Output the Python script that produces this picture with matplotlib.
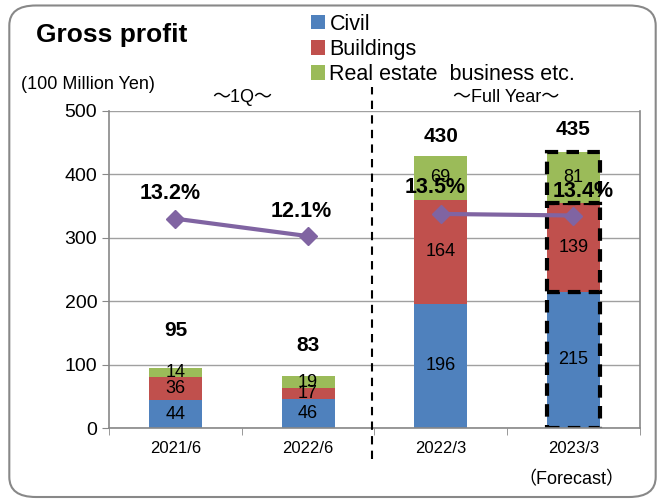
import matplotlib
matplotlib.use('Agg')
import matplotlib.pyplot as plt
from matplotlib.patches import FancyBboxPatch
import numpy as np

plt.rcParams['font.family'] = ['Liberation Sans', 'Noto Sans CJK JP', 'DejaVu Sans']

categories = ['2021/6', '2022/6', '2022/3', '2023/3']
civil = [44, 46, 196, 215]
buildings = [36, 17, 164, 139]
real_estate = [14, 19, 69, 81]
totals = [95, 83, 430, 435]
margin_pct = [13.2, 12.1, 13.5, 13.4]

series = [('Civil', civil, '#4F81BD'),
          ('Buildings', buildings, '#C0504D'),
          ('Real estate  business etc.', real_estate, '#9BBB59')]

fig = plt.figure(figsize=(6.65, 4.99), dpi=100)
ax = fig.add_axes([0.164, 0.142, 0.798, 0.636])

x = np.arange(len(categories))
width = 0.40
bottom = np.zeros(len(categories))
for name, vals, color in series:
    bars = ax.bar(x, vals, width, bottom=bottom, color=color, label=name, zorder=2)
    for i, b in enumerate(bars):
        if i == 3:  # forecast bar gets dashed outline
            b.set_edgecolor('black')
            b.set_linestyle((0, (3, 2)))
            b.set_linewidth(3)
        ax.text(x[i], bottom[i] + vals[i] / 2, str(vals[i]), ha='center', va='center',
                fontsize=13, zorder=5)
    bottom += np.array(vals)

# totals above bars
total_offsets = [27, 22, 14, 16]
for i, t in enumerate(totals):
    ax.annotate(str(t), (x[i], bottom[i]), xytext=(0, total_offsets[i]),
                textcoords='offset points', ha='center', va='center',
                fontsize=15, fontweight='bold')

ax.set_xlim(-0.5, 3.5)
ax.set_ylim(0, 500)
ax.set_yticks(range(0, 501, 100))
ax.set_xticks(x)
ax.set_xticklabels(categories, fontsize=12)
ax.set_xticks(np.arange(-0.5, 4.0, 1), minor=True)
ax.tick_params(axis='x', which='major', length=0, pad=9)
ax.tick_params(axis='x', which='minor', length=5, color='#888888')
ax.tick_params(axis='y', labelsize=14, length=5, color='#888888')
ax.grid(axis='y', color='#A0A0A0', linewidth=1, zorder=0)
ax.set_axisbelow(True)
for s in ['left', 'bottom', 'right']:
    ax.spines[s].set_color('#888888')
    ax.spines[s].set_linewidth(1.2)
ax.spines['top'].set_visible(False)

# gross margin line on hidden secondary axis
ax2 = ax.twinx()
ax2.set_ylim(0, 20)
ax2.plot(x[:2], margin_pct[:2], color='#8064A2', lw=3, marker='D', ms=9, zorder=4)
ax2.plot(x[2:], margin_pct[2:], color='#8064A2', lw=3, marker='D', ms=9, zorder=4)
pct_offsets = [(-4, 18), (-5, 18), (-4, 19), (7, 17)]
for i, p in enumerate(margin_pct):
    ax2.annotate('%.1f%%' % p, (x[i], p), xytext=pct_offsets[i],
                 textcoords='offset points', ha='center', va='center',
                 fontsize=15.5, fontweight='bold', zorder=6)
ax2.set_yticks([])
for s in ax2.spines.values():
    s.set_visible(False)

# legend
handles, labels = ax.get_legend_handles_labels()
fig.legend(handles, labels, loc='upper left', bbox_to_anchor=(0.455, 0.99),
           frameon=False, fontsize=15.5, handlelength=0.65, handleheight=0.65,
           handletextpad=0.2, labelspacing=0.2, borderaxespad=0)

# texts
fig.text(0.054, 0.93, 'Gross profit', fontsize=19, fontweight='bold', va='center')
fig.text(0.032, 0.83, '(100 Million Yen)', fontsize=13, va='center')
fig.text(0.365, 0.805, '～1Q～', fontsize=13, ha='center', va='center')
fig.text(0.761, 0.805, '～Full Year～', fontsize=13, ha='center', va='center')
fig.text(0.86, 0.038, '（Forecast）', fontsize=13, ha='center', va='center')

# vertical dashed divider
fig.add_artist(plt.Line2D([0.559, 0.559], [0.08, 0.826], color='black', lw=1.5,
                          linestyle=(0, (4, 3))))

# rounded border
fig.add_artist(FancyBboxPatch((0.014, 0.004), 0.972, 0.985,
                              boxstyle='round,pad=0,rounding_size=0.04',
                              transform=fig.transFigure, fill=False,
                              edgecolor='#888888', linewidth=1.5))

plt.savefig('out.png', dpi=100)
